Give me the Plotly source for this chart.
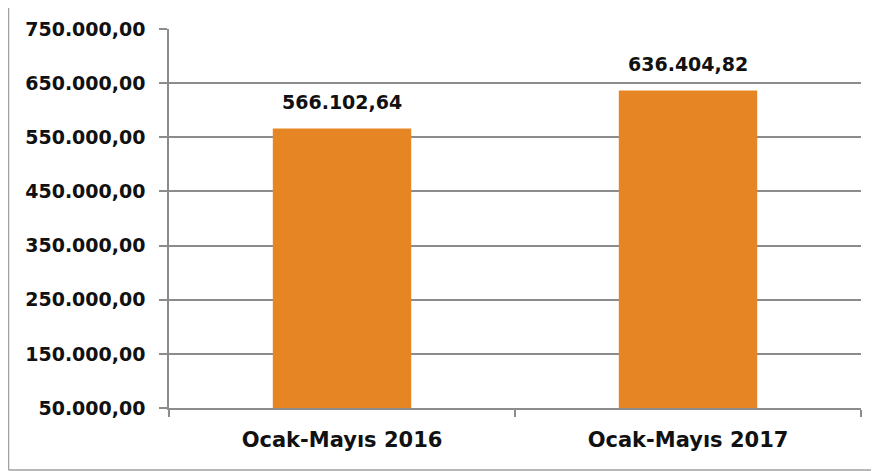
"""Ocak-Mayıs 2016 / 2017 bar chart."""

import plotly.graph_objects as go

categories = ["Ocak-Mayıs 2016", "Ocak-Mayıs 2017"]
values = [566102.64, 636404.82]
axis_floor = 50000
tick_values = [50000, 150000, 250000, 350000, 450000, 550000, 650000, 750000]

BAR_COLOR = "#E68523"
GRID_COLOR = "#8C8C8C"
TEXT_COLOR = "#111111"
FONT = "DejaVu Sans, sans-serif"

# canvas is offset by the 8px page margin, so plot area sits at x=169, y=29 on screen
WIDTH, HEIGHT = 871, 463
L, T, W, H = 161, 21, 692, 379

fig = go.Figure()

fig.add_trace(
    go.Bar(
        x=categories,
        y=[v - axis_floor for v in values],
        base=axis_floor,
        marker=dict(color=BAR_COLOR, line=dict(width=0)),
        showlegend=False,
        hoverinfo="skip",
    )
)

# value labels above the bars
for cat, val in zip(categories, values):
    label = f"{val:,.2f}".replace(",", "X").replace(".", ",").replace("X", ".")
    fig.add_annotation(
        x=cat,
        y=val,
        text=label,
        showarrow=False,
        yanchor="bottom",
        yshift=14,
        font=dict(family=FONT, size=19, color=TEXT_COLOR, weight="bold"),
    )

fig.update_xaxes(
    showline=True,
    linecolor=GRID_COLOR,
    linewidth=1.5,
    ticks="outside",
    tickson="boundaries",
    ticklen=7,
    tickwidth=1.5,
    tickcolor=GRID_COLOR,
    ticklabelstandoff=12,
    showgrid=False,
    tickfont=dict(family=FONT, size=21, color=TEXT_COLOR, weight="bold"),
)

fig.update_yaxes(
    range=[50000, 750000],
    tickvals=tick_values,
    tickformat=",.2f",
    showline=True,
    linecolor=GRID_COLOR,
    linewidth=1.5,
    showgrid=True,
    gridcolor=GRID_COLOR,
    gridwidth=1.5,
    ticks="outside",
    ticklen=8,
    tickwidth=1.5,
    tickcolor=GRID_COLOR,
    ticklabelstandoff=10,
    zeroline=False,
    tickfont=dict(family=FONT, size=19, color=TEXT_COLOR, weight="bold"),
)

# outer chart border: left and bottom edges
border = dict(color="#A0A0A0", width=1.5)
fig.add_shape(type="line", xref="paper", yref="paper",
              x0=(0.5 - L) / W, x1=(0.5 - L) / W,
              y0=(T + H - 462) / H, y1=(T + H) / H + 1,
              line=border)
fig.add_shape(type="line", xref="paper", yref="paper",
              x0=(0.5 - L) / W, x1=(WIDTH - L) / W,
              y0=(T + H - 462) / H, y1=(T + H - 462) / H,
              line=border)

fig.update_layout(
    width=WIDTH,
    height=HEIGHT,
    margin=dict(l=L, r=WIDTH - L - W, t=T, b=HEIGHT - T - H, autoexpand=False),
    bargap=0.6,
    separators=",.",
    plot_bgcolor="white",
    paper_bgcolor="white",
)

fig.write_html("out.html")
